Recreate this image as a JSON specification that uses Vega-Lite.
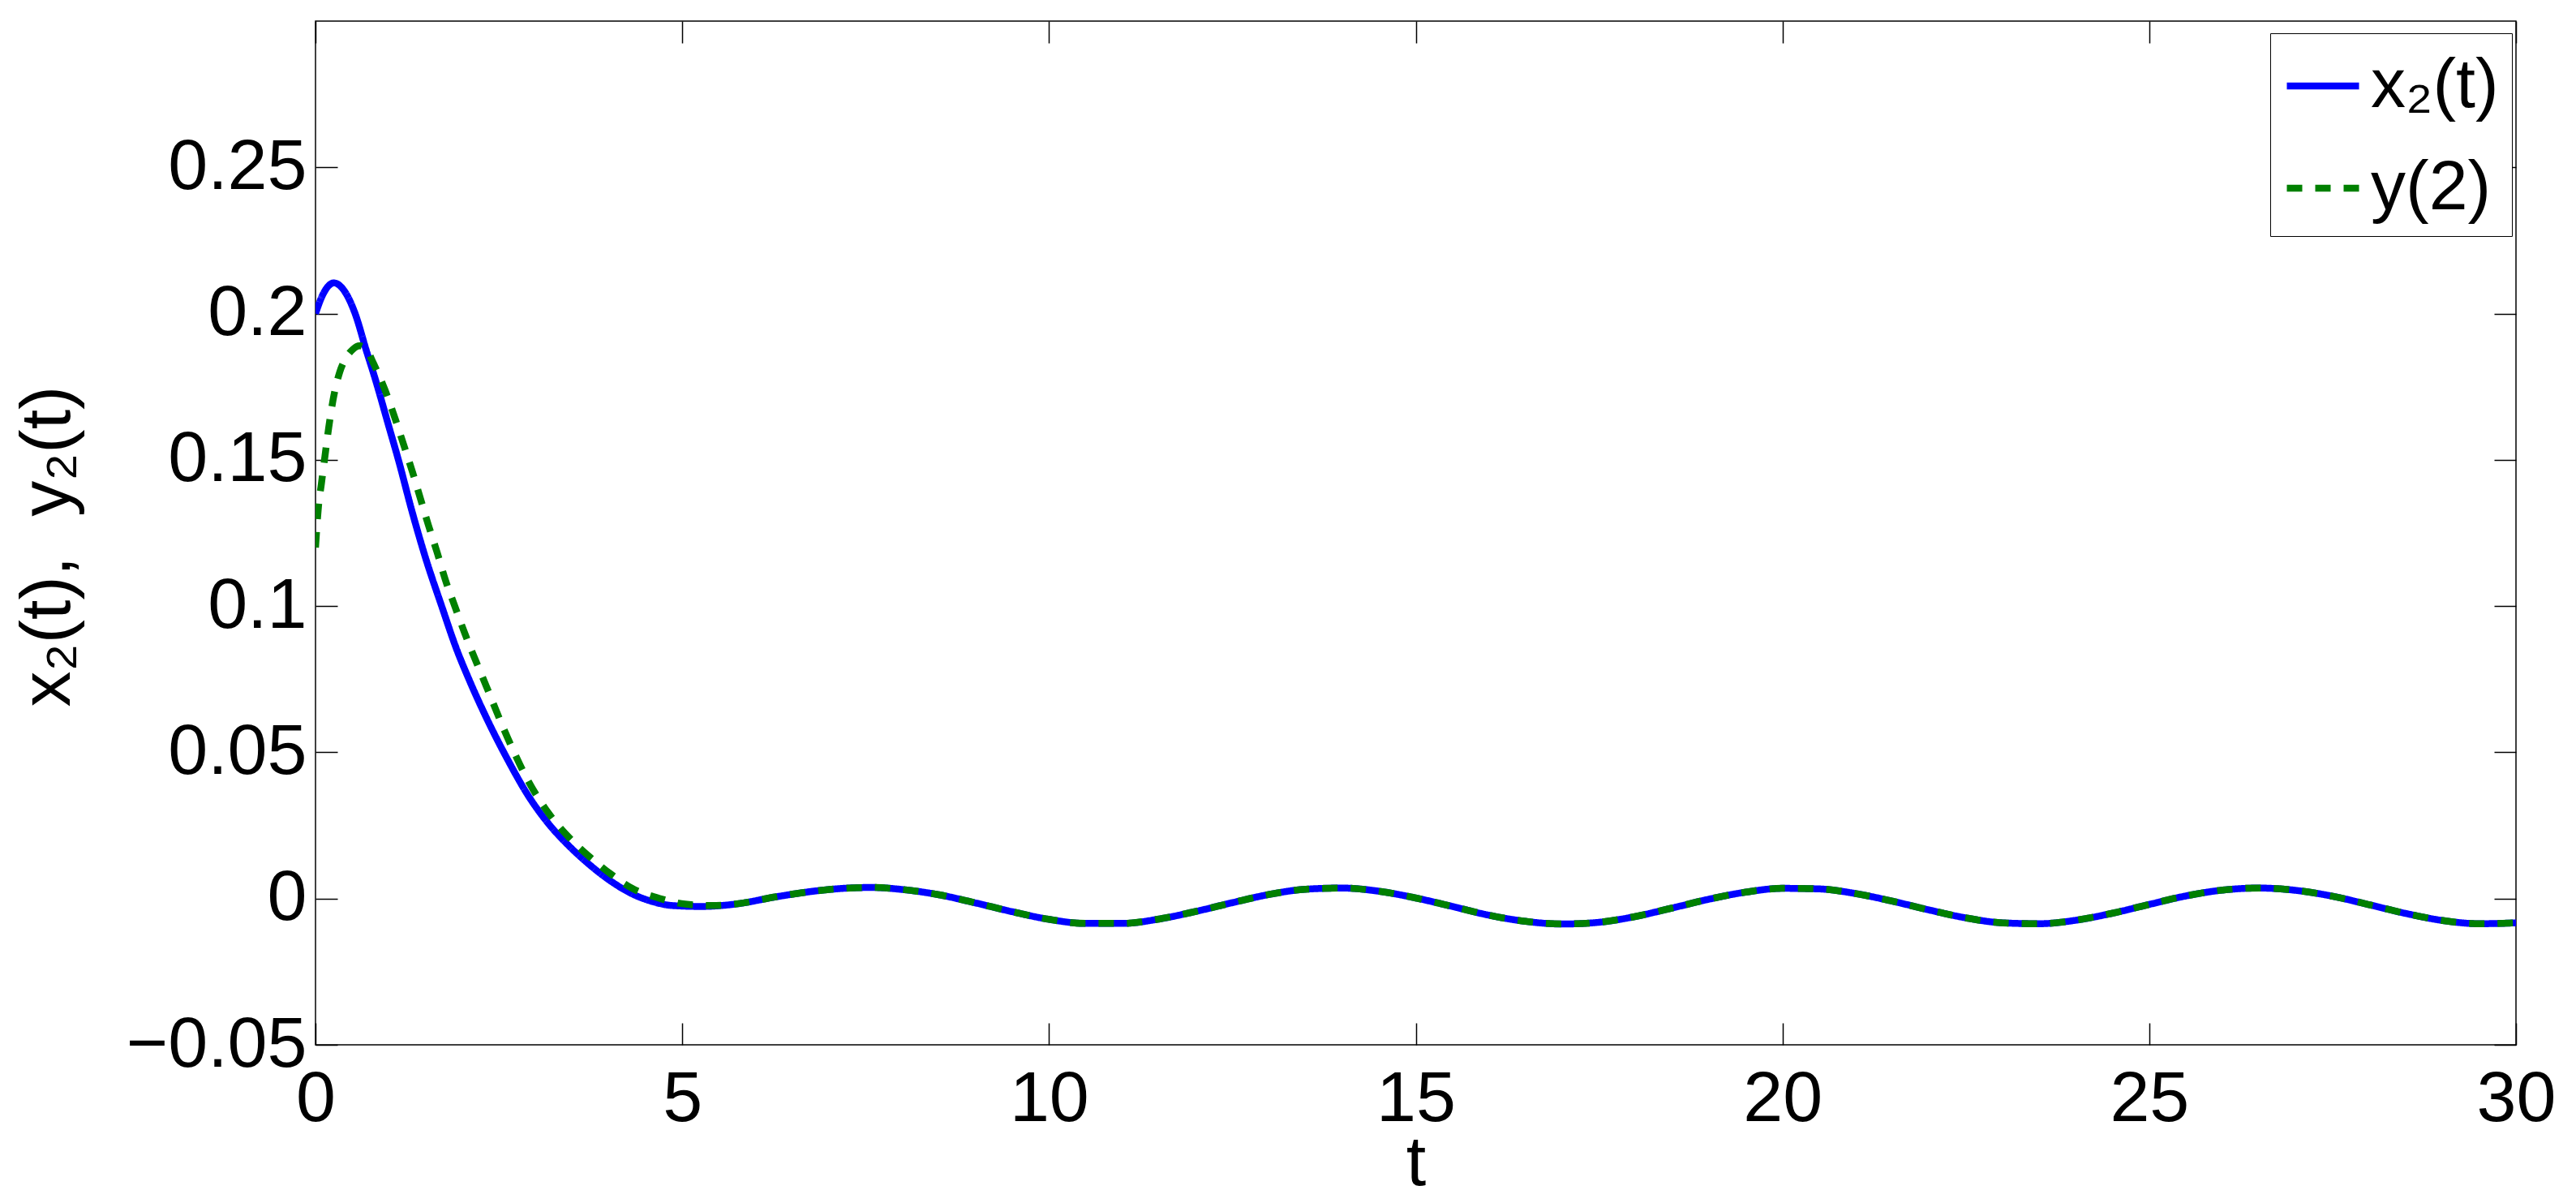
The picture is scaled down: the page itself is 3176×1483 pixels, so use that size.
{
  "$schema": "https://vega.github.io/schema/vega-lite/v6.json",
  "width": 2713,
  "height": 1262,
  "autosize": {"type": "none"},
  "padding": {"left": 389, "top": 26, "right": 74, "bottom": 195},
  "background": "white",
  "config": {
    "font": "Liberation Sans",
    "view": {"stroke": "black", "strokeWidth": 1.5},
    "axis": {
      "domain": false,
      "grid": false,
      "tickColor": "black",
      "tickWidth": 1.5,
      "tickSize": -27,
      "labelColor": "black",
      "labelFont": "Liberation Sans",
      "labelFontSize": 88,
      "labelFontWeight": "normal",
      "labelLimit": 0,
      "labelOverlap": false,
      "titleColor": "black",
      "titleFont": "Liberation Sans",
      "titleFontSize": 88,
      "titleFontWeight": "normal",
      "titleLimit": 0
    }
  },
  "data": {
    "values": [
      {"t": 0, "v": 0.2, "s": "x₂(t)"},
      {"t": 0.1, "v": 0.2065, "s": "x₂(t)"},
      {"t": 0.25, "v": 0.2105, "s": "x₂(t)"},
      {"t": 0.4, "v": 0.2075, "s": "x₂(t)"},
      {"t": 0.54, "v": 0.2, "s": "x₂(t)"},
      {"t": 0.69, "v": 0.1876, "s": "x₂(t)"},
      {"t": 0.81, "v": 0.178, "s": "x₂(t)"},
      {"t": 1.0, "v": 0.1614, "s": "x₂(t)"},
      {"t": 1.13, "v": 0.15, "s": "x₂(t)"},
      {"t": 1.32, "v": 0.132, "s": "x₂(t)"},
      {"t": 1.5, "v": 0.1165, "s": "x₂(t)"},
      {"t": 1.72, "v": 0.1, "s": "x₂(t)"},
      {"t": 1.92, "v": 0.0855, "s": "x₂(t)"},
      {"t": 2.1, "v": 0.0745, "s": "x₂(t)"},
      {"t": 2.33, "v": 0.0618, "s": "x₂(t)"},
      {"t": 2.62, "v": 0.0475, "s": "x₂(t)"},
      {"t": 2.9, "v": 0.0352, "s": "x₂(t)"},
      {"t": 3.18, "v": 0.0255, "s": "x₂(t)"},
      {"t": 3.46, "v": 0.0179, "s": "x₂(t)"},
      {"t": 3.74, "v": 0.0115, "s": "x₂(t)"},
      {"t": 4.03, "v": 0.0059, "s": "x₂(t)"},
      {"t": 4.31, "v": 0.0017, "s": "x₂(t)"},
      {"t": 4.59, "v": -0.001, "s": "x₂(t)"},
      {"t": 4.87, "v": -0.0024, "s": "x₂(t)"},
      {"t": 5.26, "v": -0.0027, "s": "x₂(t)"},
      {"t": 5.72, "v": -0.0019, "s": "x₂(t)"},
      {"t": 6.28, "v": 0.0006, "s": "x₂(t)"},
      {"t": 6.85, "v": 0.0027, "s": "x₂(t)"},
      {"t": 7.2, "v": 0.0035, "s": "x₂(t)"},
      {"t": 7.58, "v": 0.0038, "s": "x₂(t)"},
      {"t": 8, "v": 0.0031, "s": "x₂(t)"},
      {"t": 8.5, "v": 0.0013, "s": "x₂(t)"},
      {"t": 9, "v": -0.0015, "s": "x₂(t)"},
      {"t": 9.5, "v": -0.0045, "s": "x₂(t)"},
      {"t": 10, "v": -0.0071, "s": "x₂(t)"},
      {"t": 10.5, "v": -0.0085, "s": "x₂(t)"},
      {"t": 11, "v": -0.0085, "s": "x₂(t)"},
      {"t": 11.5, "v": -0.007, "s": "x₂(t)"},
      {"t": 12, "v": -0.0044, "s": "x₂(t)"},
      {"t": 12.5, "v": -0.0014, "s": "x₂(t)"},
      {"t": 13, "v": 0.0014, "s": "x₂(t)"},
      {"t": 13.5, "v": 0.0032, "s": "x₂(t)"},
      {"t": 14, "v": 0.0036, "s": "x₂(t)"},
      {"t": 14.5, "v": 0.0025, "s": "x₂(t)"},
      {"t": 15, "v": 0.0002, "s": "x₂(t)"},
      {"t": 15.5, "v": -0.0027, "s": "x₂(t)"},
      {"t": 16, "v": -0.0057, "s": "x₂(t)"},
      {"t": 16.5, "v": -0.0078, "s": "x₂(t)"},
      {"t": 17, "v": -0.0087, "s": "x₂(t)"},
      {"t": 17.5, "v": -0.0081, "s": "x₂(t)"},
      {"t": 18, "v": -0.0061, "s": "x₂(t)"},
      {"t": 18.5, "v": -0.0032, "s": "x₂(t)"},
      {"t": 19, "v": -0.0002, "s": "x₂(t)"},
      {"t": 19.5, "v": 0.0022, "s": "x₂(t)"},
      {"t": 20, "v": 0.0035, "s": "x₂(t)"},
      {"t": 20.5, "v": 0.0033, "s": "x₂(t)"},
      {"t": 21, "v": 0.0017, "s": "x₂(t)"},
      {"t": 21.5, "v": -0.0009, "s": "x₂(t)"},
      {"t": 22, "v": -0.0039, "s": "x₂(t)"},
      {"t": 22.5, "v": -0.0066, "s": "x₂(t)"},
      {"t": 23, "v": -0.0083, "s": "x₂(t)"},
      {"t": 23.5, "v": -0.0086, "s": "x₂(t)"},
      {"t": 24, "v": -0.0074, "s": "x₂(t)"},
      {"t": 24.5, "v": -0.005, "s": "x₂(t)"},
      {"t": 25, "v": -0.002, "s": "x₂(t)"},
      {"t": 25.5, "v": 0.0009, "s": "x₂(t)"},
      {"t": 26, "v": 0.0029, "s": "x₂(t)"},
      {"t": 26.5, "v": 0.0036, "s": "x₂(t)"},
      {"t": 27, "v": 0.0028, "s": "x₂(t)"},
      {"t": 27.5, "v": 0.0008, "s": "x₂(t)"},
      {"t": 28, "v": -0.0021, "s": "x₂(t)"},
      {"t": 28.5, "v": -0.0051, "s": "x₂(t)"},
      {"t": 29, "v": -0.0075, "s": "x₂(t)"},
      {"t": 29.5, "v": -0.0086, "s": "x₂(t)"},
      {"t": 30, "v": -0.0083, "s": "x₂(t)"},

      {"t": 0, "v": 0.12, "s": "y(2)"},
      {"t": 0.04, "v": 0.134, "s": "y(2)"},
      {"t": 0.08, "v": 0.1418, "s": "y(2)"},
      {"t": 0.13, "v": 0.1515, "s": "y(2)"},
      {"t": 0.18, "v": 0.161, "s": "y(2)"},
      {"t": 0.24, "v": 0.1706, "s": "y(2)"},
      {"t": 0.33, "v": 0.18, "s": "y(2)"},
      {"t": 0.42, "v": 0.185, "s": "y(2)"},
      {"t": 0.51, "v": 0.1878, "s": "y(2)"},
      {"t": 0.6, "v": 0.189, "s": "y(2)"},
      {"t": 0.7, "v": 0.1875, "s": "y(2)"},
      {"t": 0.79, "v": 0.183, "s": "y(2)"},
      {"t": 0.95, "v": 0.1737, "s": "y(2)"},
      {"t": 1.08, "v": 0.1645, "s": "y(2)"},
      {"t": 1.2, "v": 0.1553, "s": "y(2)"},
      {"t": 1.32, "v": 0.146, "s": "y(2)"},
      {"t": 1.43, "v": 0.1368, "s": "y(2)"},
      {"t": 1.54, "v": 0.1276, "s": "y(2)"},
      {"t": 1.66, "v": 0.1182, "s": "y(2)"},
      {"t": 1.77, "v": 0.109, "s": "y(2)"},
      {"t": 1.9, "v": 0.0999, "s": "y(2)"},
      {"t": 2.03, "v": 0.091, "s": "y(2)"},
      {"t": 2.33, "v": 0.0725, "s": "y(2)"},
      {"t": 2.62, "v": 0.0549, "s": "y(2)"},
      {"t": 2.9, "v": 0.0402, "s": "y(2)"},
      {"t": 3.18, "v": 0.0291, "s": "y(2)"},
      {"t": 3.46, "v": 0.0208, "s": "y(2)"},
      {"t": 3.74, "v": 0.0142, "s": "y(2)"},
      {"t": 4.03, "v": 0.0083, "s": "y(2)"},
      {"t": 4.31, "v": 0.0036, "s": "y(2)"},
      {"t": 4.7, "v": 0.0, "s": "y(2)"},
      {"t": 5.04, "v": -0.0019, "s": "y(2)"},
      {"t": 5.4, "v": -0.0024, "s": "y(2)"},
      {"t": 5.72, "v": -0.0019, "s": "y(2)"},
      {"t": 6.28, "v": 0.0006, "s": "y(2)"},
      {"t": 6.85, "v": 0.0027, "s": "y(2)"},
      {"t": 7.2, "v": 0.0035, "s": "y(2)"},
      {"t": 7.58, "v": 0.0038, "s": "y(2)"},
      {"t": 8, "v": 0.0031, "s": "y(2)"},
      {"t": 8.5, "v": 0.0013, "s": "y(2)"},
      {"t": 9, "v": -0.0015, "s": "y(2)"},
      {"t": 9.5, "v": -0.0045, "s": "y(2)"},
      {"t": 10, "v": -0.0071, "s": "y(2)"},
      {"t": 10.5, "v": -0.0085, "s": "y(2)"},
      {"t": 11, "v": -0.0085, "s": "y(2)"},
      {"t": 11.5, "v": -0.007, "s": "y(2)"},
      {"t": 12, "v": -0.0044, "s": "y(2)"},
      {"t": 12.5, "v": -0.0014, "s": "y(2)"},
      {"t": 13, "v": 0.0014, "s": "y(2)"},
      {"t": 13.5, "v": 0.0032, "s": "y(2)"},
      {"t": 14, "v": 0.0036, "s": "y(2)"},
      {"t": 14.5, "v": 0.0025, "s": "y(2)"},
      {"t": 15, "v": 0.0002, "s": "y(2)"},
      {"t": 15.5, "v": -0.0027, "s": "y(2)"},
      {"t": 16, "v": -0.0057, "s": "y(2)"},
      {"t": 16.5, "v": -0.0078, "s": "y(2)"},
      {"t": 17, "v": -0.0087, "s": "y(2)"},
      {"t": 17.5, "v": -0.0081, "s": "y(2)"},
      {"t": 18, "v": -0.0061, "s": "y(2)"},
      {"t": 18.5, "v": -0.0032, "s": "y(2)"},
      {"t": 19, "v": -0.0002, "s": "y(2)"},
      {"t": 19.5, "v": 0.0022, "s": "y(2)"},
      {"t": 20, "v": 0.0035, "s": "y(2)"},
      {"t": 20.5, "v": 0.0033, "s": "y(2)"},
      {"t": 21, "v": 0.0017, "s": "y(2)"},
      {"t": 21.5, "v": -0.0009, "s": "y(2)"},
      {"t": 22, "v": -0.0039, "s": "y(2)"},
      {"t": 22.5, "v": -0.0066, "s": "y(2)"},
      {"t": 23, "v": -0.0083, "s": "y(2)"},
      {"t": 23.5, "v": -0.0086, "s": "y(2)"},
      {"t": 24, "v": -0.0074, "s": "y(2)"},
      {"t": 24.5, "v": -0.005, "s": "y(2)"},
      {"t": 25, "v": -0.002, "s": "y(2)"},
      {"t": 25.5, "v": 0.0009, "s": "y(2)"},
      {"t": 26, "v": 0.0029, "s": "y(2)"},
      {"t": 26.5, "v": 0.0036, "s": "y(2)"},
      {"t": 27, "v": 0.0028, "s": "y(2)"},
      {"t": 27.5, "v": 0.0008, "s": "y(2)"},
      {"t": 28, "v": -0.0021, "s": "y(2)"},
      {"t": 28.5, "v": -0.0051, "s": "y(2)"},
      {"t": 29, "v": -0.0075, "s": "y(2)"},
      {"t": 29.5, "v": -0.0086, "s": "y(2)"},
      {"t": 30, "v": -0.0083, "s": "y(2)"}
    ]
  },
  "layer": [
    {
      "mark": {"type": "line", "strokeWidth": 8.5, "clip": true, "interpolate": "monotone"},
      "encoding": {
        "x": {
          "field": "t", "type": "quantitative",
          "scale": {"domain": [0, 30], "nice": false, "zero": false},
          "axis": {
            "orient": "bottom",
            "values": [0, 5, 10, 15, 20, 25, 30],
            "labelPadding": 50,
            "labelFlush": false,
            "title": "t",
            "titleBaseline": "alphabetic",
            "titleY": 172
          }
        },
        "y": {
          "field": "v", "type": "quantitative",
          "scale": {"domain": [-0.05, 0.3], "nice": false, "zero": false},
          "axis": {
            "orient": "left",
            "values": [-0.05, 0, 0.05, 0.1, 0.15, 0.2, 0.25],
            "format": "~g",
            "labelPadding": 38,
            "labelFlush": false,
            "title": "x₂(t),\u00a0\u00a0y₂(t)",
            "titleAngle": -90,
            "titleAlign": "center",
            "titleBaseline": "alphabetic",
            "titleX": -304,
            "titleY": 647
          }
        },
        "color": {
          "field": "s", "type": "nominal",
          "scale": {"domain": ["x₂(t)", "y(2)"], "range": ["#0000ff", "#008000"]},
          "legend": {
            "orient": "none",
            "legendX": 2410,
            "legendY": 15,
            "title": null,
            "symbolType": "stroke",
            "symbolSize": 7921,
            "symbolStrokeWidth": 8.5,
            "labelFontSize": 86,
            "labelFont": "Liberation Sans",
            "labelColor": "black",
            "labelOffset": 10,
            "labelLimit": 0,
            "rowPadding": 34,
            "padding": 16,
            "strokeColor": "black",
            "fillColor": "white",
            "cornerRadius": 0
          }
        },
        "strokeDash": {
          "field": "s", "type": "nominal",
          "scale": {"domain": ["x₂(t)", "y(2)"], "range": [[1, 0], [19, 16]]},
          "legend": {
            "orient": "none",
            "legendX": 2410,
            "legendY": 15,
            "title": null,
            "symbolType": "stroke",
            "symbolSize": 7921,
            "symbolStrokeWidth": 8.5,
            "labelFontSize": 86,
            "labelFont": "Liberation Sans",
            "labelColor": "black",
            "labelOffset": 10,
            "labelLimit": 0,
            "rowPadding": 34,
            "padding": 16,
            "strokeColor": "black",
            "fillColor": "white",
            "cornerRadius": 0
          }
        }
      }
    },
    {
      "mark": {"type": "point", "opacity": 0},
      "encoding": {
        "x": {
          "field": "t", "type": "quantitative",
          "axis": {"orient": "top", "values": [0, 5, 10, 15, 20, 25, 30], "labels": false, "title": null}
        },
        "y": {
          "field": "v", "type": "quantitative",
          "axis": {"orient": "right", "values": [-0.05, 0, 0.05, 0.1, 0.15, 0.2, 0.25], "labels": false, "title": null}
        }
      }
    }
  ],
  "resolve": {"axis": {"x": "independent", "y": "independent"}}
}
